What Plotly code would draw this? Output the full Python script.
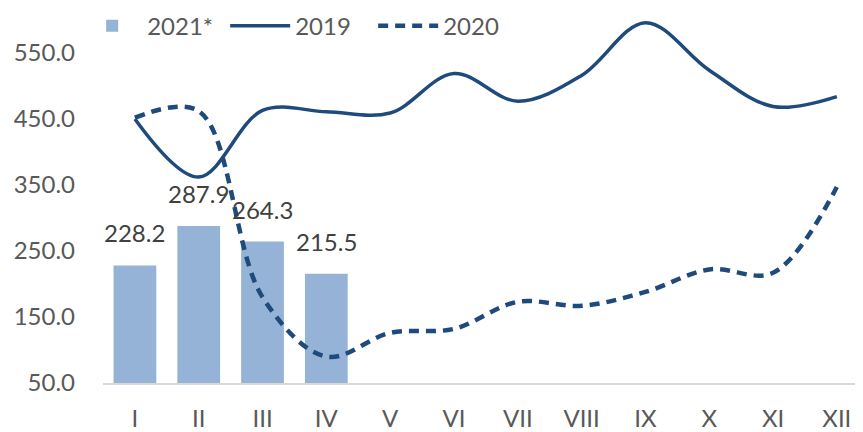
import plotly.graph_objects as go

months = ["I", "II", "III", "IV", "V", "VI", "VII", "VIII", "IX", "X", "XI", "XII"]
bars_2021 = [228.2, 287.9, 264.3, 215.5]
line_2019 = [450, 362, 463, 461, 459, 519, 477, 516, 596, 524, 469, 484]
line_2020 = [452, 462, 180, 90, 126, 132, 173, 167, 188, 222, 217, 347]
y_ticks = [50, 150, 250, 350, 450, 550]

BAR_C = "#95B3D7"
LINE_C = "#1F4A7C"
TXT = "#595959"
FONT = "Lato"

fig = go.Figure()
fig.add_trace(go.Bar(x=months[:len(bars_2021)], y=bars_2021, name="2021*",
                     marker=dict(color=BAR_C, line=dict(width=0)), width=0.67))
fig.add_trace(go.Scatter(x=months, y=line_2019, name="2019", mode="lines",
                         line=dict(color=LINE_C, width=3.5, shape="spline", smoothing=1.0)))
fig.add_trace(go.Scatter(x=months, y=line_2020, name="2020", mode="lines",
                         line=dict(color=LINE_C, width=4.5, shape="spline", smoothing=1.0,
                                   dash="10px,7px")))

for m, v in zip(months, bars_2021):
    fig.add_annotation(x=m, y=v, text=f"{v:.1f}", showarrow=False, yanchor="bottom",
                       yshift=16, font=dict(family=FONT, size=24, color="#404040"))

# the page body has an 8px margin, so the figure is drawn 8px smaller
fig.update_layout(
    width=855, height=424,
    margin=dict(l=95, r=0, t=12, b=49, autoexpand=False),
    paper_bgcolor="white", plot_bgcolor="white",
    font=dict(family=FONT, size=24, color=TXT),
    showlegend=True,
    legend=dict(orientation="h", x=-0.034, y=1.045, xanchor="left", yanchor="top",
                font=dict(family=FONT, size=24, color=TXT), bgcolor="rgba(0,0,0,0)",
                traceorder="normal", itemwidth=60, entrywidth=73, entrywidthmode="pixels"),
    bargap=0.33,
)
fig.update_xaxes(type="category", categoryorder="array", categoryarray=months,
                 range=[-0.5, 11.41], showgrid=False, showline=True, linecolor="#D9D9D9",
                 linewidth=1.5, ticks="", ticklabelstandoff=13, automargin=False,
                 tickfont=dict(family=FONT, size=24, color=TXT))
fig.update_yaxes(range=[50, 600], tickvals=y_ticks, tickformat=".1f", showgrid=False,
                 showline=False, zeroline=False, ticks="", ticklabelstandoff=27,
                 automargin=False, tickfont=dict(family=FONT, size=24, color=TXT))

fig.write_html("out.html")
